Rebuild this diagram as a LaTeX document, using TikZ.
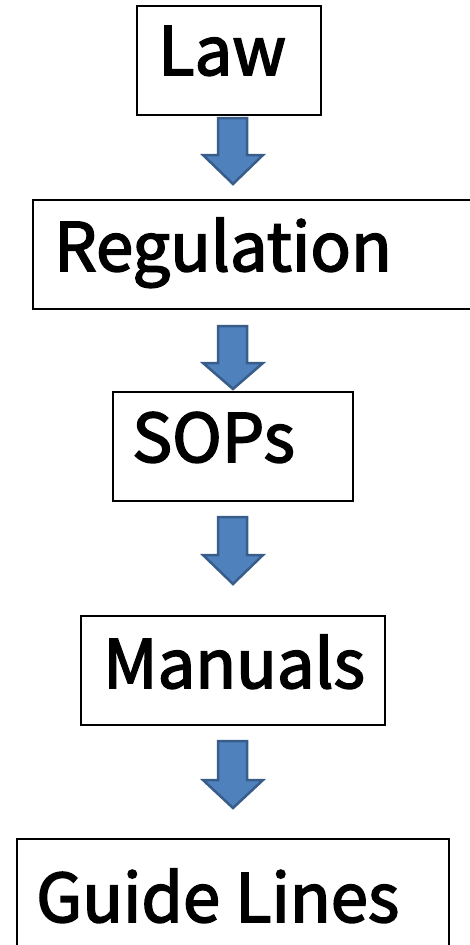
\documentclass[tikz,border=0pt]{standalone}
\usepackage{fontspec}
\newfontfamily\lblfont{Noto Sans CJK SC}[FakeBold=2.5]
\begin{document}
\begin{tikzpicture}[x=1pt,y=-1pt,
  boxstyle/.style={draw=black,line width=2pt,fill=white},
  lbl/.style={anchor=base west,inner sep=0pt,font=\lblfont\fontsize{67}{70}\selectfont},
  blockarrow/.style={fill=arrowfill,draw=arrowline,line width=2.5pt,line join=miter}]
\definecolor{arrowfill}{HTML}{4F81BD}
\definecolor{arrowline}{HTML}{385D8A}
\useasboundingbox (0,0) rectangle (469,945);
% boxes
\draw[boxstyle] (137,6) rectangle (321,115);
\node[lbl] (law) at (158,75) {Law};
\draw[boxstyle] (33,200) rectangle (472,309);
\node[lbl] (reg) at (54,271) {Regulation};
\draw[boxstyle] (113,392) rectangle (353,501);
\node[lbl] (sops) at (132,462) {SOPs};
\draw[boxstyle] (81,616) rectangle (385,725);
\node[lbl] (man) at (103,688) {Manuals};
\draw[boxstyle] (17,839) rectangle (449,950);
\node[lbl] (guide) at (36,922) {Guide Lines};
% block arrows: top, head base, tip
\foreach \t/\b/\p in {118/155/184, 326/363/389, 517/555/584, 741/780/808}{
  \draw[blockarrow] (218,\t) -- (247,\t) -- (247,\b) -- (263,\b) -- (233,\p)
     -- (203,\b) -- (218,\b) -- cycle;
}
\end{tikzpicture}
\end{document}
